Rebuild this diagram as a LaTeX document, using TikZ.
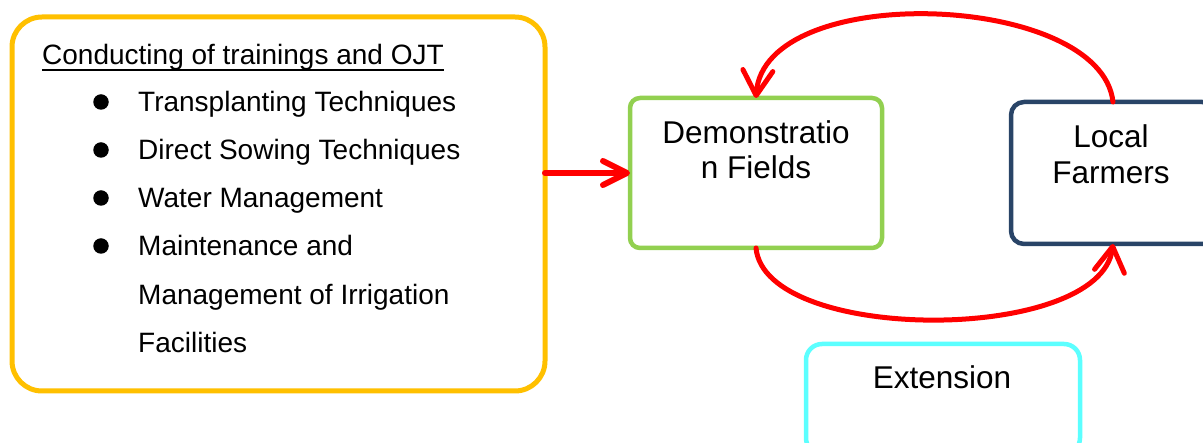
\documentclass[tikz,border=0pt]{standalone}
\usepackage{fontspec}
\setmainfont{Liberation Sans}
\usetikzlibrary{arrows.meta}
\definecolor{boxyellow}{HTML}{FFC000}
\definecolor{boxgreen}{HTML}{92D050}
\definecolor{boxnavy}{HTML}{294467}
\definecolor{boxcyan}{HTML}{5CFFFF}
\definecolor{arrowred}{HTML}{FF0000}
\begin{document}
\begin{tikzpicture}[x=1pt,y=-1pt,
  panel/.style={rectangle, draw, fill=white, inner sep=0pt, outer sep=0pt, line width=4.5pt},
  bigtext/.style={font=\fontsize{31.5}{36}\selectfont, inner sep=0pt, anchor=base},
  listtext/.style={font=\fontsize{28}{48}\selectfont, inner sep=0pt, anchor=base west},
  bulletdot/.style={circle, fill=black, inner sep=0pt, minimum size=15.5pt},
  redline/.style={draw=arrowred, line cap=round, line join=round},
  redarrow/.style={redline, -{Straight Barb[length=25pt,width=30pt,round]}}
]
\useasboundingbox (0,0) rectangle (1203,443);
\clip (0,0) rectangle (1203,443);

% boxes
\node[panel, draw=boxyellow, line width=5pt, rounded corners=30pt,
      minimum width=533pt, minimum height=374pt] (train) at (278.5,204) {};
\node[panel, draw=boxgreen, rounded corners=10pt,
      minimum width=252pt, minimum height=150pt] (demo) at (756,173) {};
\node[panel, draw=boxnavy, rounded corners=13pt,
      minimum width=204pt, minimum height=142pt] (farm) at (1113,173) {};
\node[panel, draw=boxcyan, rounded corners=16pt,
      minimum width=274pt, minimum height=110pt] (ext) at (943,399) {};

% left box text
\node[listtext] (title) at (42,65) {Conducting of trainings and OJT};
\draw[line width=2.2pt] ([yshift=-5pt]title.base west) -- ([yshift=-5pt]title.base east);
\node[bulletdot] (b1) at (101,102) {};
\node[bulletdot] (b2) at (101,150) {};
\node[bulletdot] (b3) at (101,198) {};
\node[bulletdot] (b4) at (101,246) {};
\node[listtext] (t1) at (138,112) {Transplanting Techniques};
\node[listtext] (t2) at (138,160) {Direct Sowing Techniques};
\node[listtext] (t3) at (138,208) {Water Management};
\node[listtext] (t4) at (138,256) {Maintenance and};
\node[listtext] (t5) at (138,305) {Management of Irrigation};
\node[listtext] (t6) at (138,353) {Facilities};

% other box texts
\node[bigtext] (demo1) at (756,144) {Demonstratio};
\node[bigtext] (demo2) at (756,179) {n Fields};
\node[bigtext] (farm1) at (1111,148) {Local};
\node[bigtext] (farm2) at (1111,184) {Farmers};
\node[bigtext] (ext1) at (942,389) {Extension};

% connectors
\draw[redarrow, line width=6pt,
      -{Straight Barb[length=24pt,width=24pt,round]}]
  (train.east |- demo.west) -- (demo.west);
\draw[redarrow, line width=5pt]
  (farm.north) .. controls +(-12,-110) and +(8,-118) .. (demo.north);
\draw[redarrow, line width=5pt]
  (demo.south) .. controls +(9,96) and +(-13,100) .. (farm.south);
\end{tikzpicture}
\end{document}
